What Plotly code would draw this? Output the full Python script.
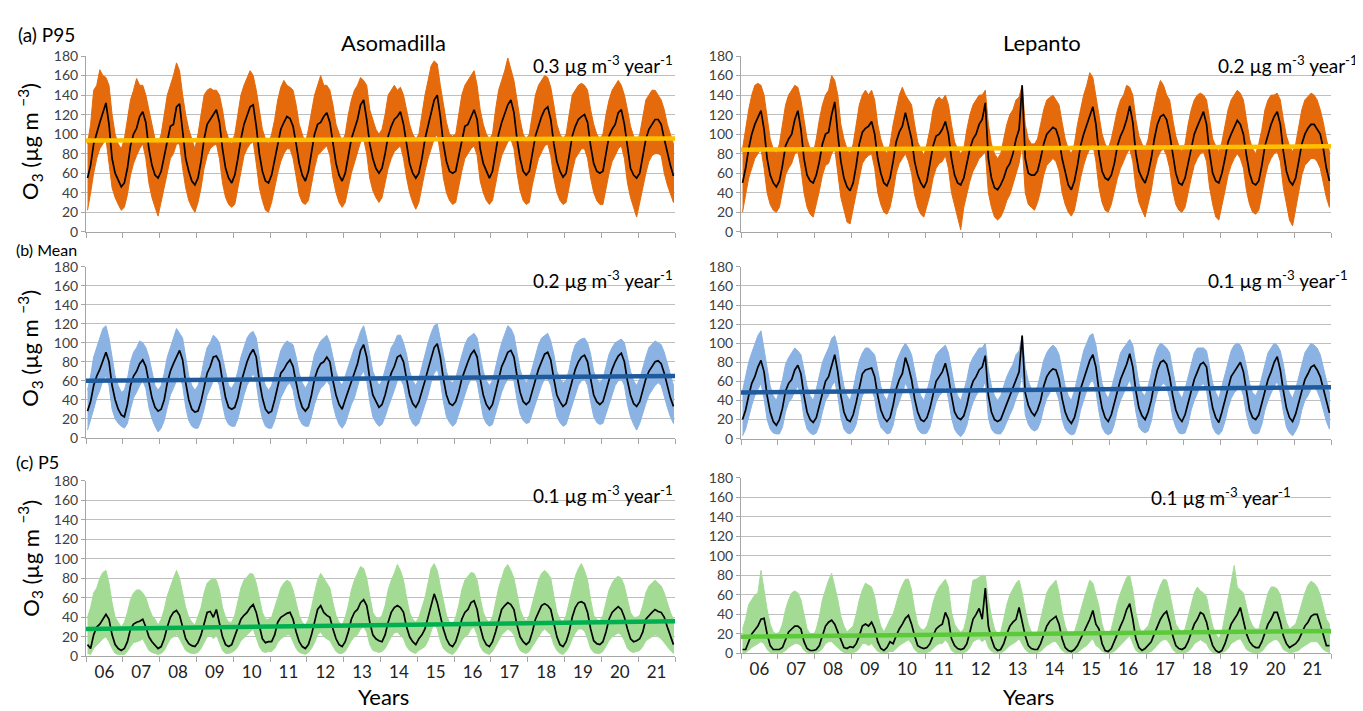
import plotly.graph_objects as go

W, H = 1363, 711
FONT = "Lato"

# ---------------- data (monthly, Jan 2006 - Dec 2021) ----------------
start_year = 2006
years = list(range(2006, 2022))
year_labels = ["06", "07", "08", "09", "10", "11", "12", "13", "14", "15", "16", "17", "18", "19", "20", "21"]

# (a) P95 Asomadilla
asom_p95_smooth = [
    55, 68, 90, 102, 112, 122, 132, 110, 75, 60, 52, 46,
    50, 65, 88, 100, 106, 118, 123, 112, 85, 68, 58, 55,
    62, 78, 95, 108, 110, 128, 131, 100, 75, 62, 52, 48,
    55, 72, 95, 110, 115, 120, 125, 112, 85, 65, 55, 50,
    58, 75, 95, 110, 120, 128, 130, 108, 80, 62, 52, 50,
    58, 75, 92, 105, 112, 118, 116, 108, 90, 70, 58, 52,
    62, 80, 100, 110, 112, 118, 122, 112, 90, 70, 58, 52,
    60, 78, 95, 105, 115, 130, 135, 115, 90, 75, 65, 60,
    65, 80, 98, 108, 115, 118, 123, 110, 88, 70, 60, 55,
    60, 75, 95, 108, 120, 135, 140, 118, 90, 72, 62, 60,
    62, 78, 95, 108, 110, 118, 125, 115, 85, 70, 62, 55,
    62, 80, 100, 112, 120, 130, 135, 122, 95, 75, 62, 58,
    62, 80, 98, 108, 118, 125, 128, 115, 90, 72, 62, 56,
    60, 78, 98, 108, 115, 118, 120, 112, 88, 70, 62, 60,
    62, 80, 98, 105, 110, 122, 125, 110, 85, 65, 58, 55,
    60, 78, 95, 105, 110, 115, 115, 110, 95, 80, 68, 57,
]
asom_p95_hi = [
    90, 110, 145, 150, 166, 160, 158, 150, 120, 100, 90, 85,
    95, 115, 135, 145, 157, 150, 150, 140, 125, 110, 95, 90,
    100, 120, 140, 150, 160, 173, 165, 140, 120, 105, 95, 85,
    100, 120, 140, 145, 147, 145, 145, 140, 125, 105, 95, 90,
    100, 120, 140, 150, 158, 165, 160, 145, 125, 105, 95, 90,
    100, 115, 135, 148, 155, 150, 148, 145, 130, 110, 100, 90,
    105, 125, 140, 150, 160, 150, 150, 145, 130, 110, 100, 92,
    100, 120, 135, 145, 150, 158, 155, 150, 125, 115, 105, 100,
    105, 120, 140, 145, 150, 145, 148, 140, 125, 110, 100, 95,
    100, 120, 140, 155, 170, 175, 172, 150, 130, 112, 100, 98,
    100, 120, 140, 150, 155, 160, 165, 150, 125, 110, 100, 95,
    100, 125, 145, 155, 165, 178, 165, 155, 135, 115, 100, 95,
    100, 120, 140, 150, 155, 160, 158, 148, 130, 110, 100, 95,
    100, 120, 140, 145, 150, 152, 150, 145, 125, 110, 100, 95,
    100, 120, 135, 145, 150, 155, 150, 140, 125, 108, 98, 92,
    100, 118, 135, 140, 145, 145, 140, 135, 125, 110, 100, 90,
]
asom_p95_lo = [
    22, 40, 60, 75, 85, 90, 95, 70, 45, 35, 28, 22,
    25, 38, 58, 70, 78, 85, 90, 75, 50, 35, 25, 16,
    30, 45, 60, 75, 80, 90, 90, 65, 45, 32, 25, 20,
    30, 45, 65, 78, 85, 88, 90, 75, 50, 35, 28, 25,
    28, 45, 62, 78, 85, 90, 92, 70, 45, 32, 22, 20,
    30, 45, 60, 72, 80, 85, 85, 75, 55, 38, 30, 28,
    32, 48, 65, 78, 82, 85, 88, 78, 55, 40, 30, 25,
    30, 45, 60, 72, 82, 92, 95, 80, 55, 42, 35, 30,
    35, 50, 65, 75, 82, 85, 88, 75, 55, 40, 30, 23,
    30, 45, 62, 75, 85, 95, 100, 80, 55, 40, 32, 28,
    30, 45, 62, 75, 80, 85, 88, 78, 52, 40, 32, 28,
    32, 48, 65, 78, 85, 92, 95, 85, 60, 42, 32, 28,
    30, 48, 62, 75, 82, 88, 90, 78, 55, 40, 32, 28,
    30, 45, 62, 75, 80, 85, 85, 75, 55, 40, 32, 28,
    28, 45, 60, 72, 78, 85, 88, 75, 50, 35, 25, 15,
    30, 45, 60, 72, 78, 80, 80, 78, 60, 48, 38, 30,
]
asom_p95_trend = [93.5, 95.5]

# (a) P95 Lepanto
lep_p95_smooth = [
    50, 65, 85, 100, 110, 118, 124, 105, 75, 58, 50, 46,
    52, 68, 88, 95, 100, 115, 124, 105, 75, 58, 52, 50,
    58, 72, 90, 100, 102, 120, 133, 100, 72, 55, 46, 42,
    50, 68, 90, 102, 106, 108, 113, 100, 75, 60, 50, 47,
    55, 72, 92, 102, 108, 122, 110, 95, 72, 58, 50, 45,
    52, 68, 88, 98, 100, 105, 113, 100, 75, 58, 50, 48,
    55, 70, 85, 95, 100, 110, 115, 132, 75, 55, 45, 43,
    48, 55, 65, 70, 80, 95, 105, 150, 75, 60, 58, 58,
    62, 75, 90, 100, 104, 107, 105, 95, 75, 60, 48, 43,
    52, 68, 88, 100, 110, 118, 128, 110, 80, 62, 55, 53,
    58, 70, 88, 98, 105, 115, 129, 112, 80, 62, 55, 50,
    60, 75, 95, 110, 118, 120, 115, 100, 78, 60, 50, 48,
    55, 70, 88, 100, 108, 115, 123, 110, 80, 60, 52, 50,
    60, 75, 92, 100, 108, 114, 110, 100, 78, 60, 50, 48,
    52, 68, 88, 100, 110, 118, 123, 110, 82, 62, 52, 48,
    55, 72, 90, 100, 106, 110, 110, 105, 100, 85, 65, 52,
]
lep_p95_hi = [
    85, 105, 125, 140, 150, 152, 150, 140, 115, 95, 85, 80,
    90, 110, 130, 140, 145, 150, 148, 135, 115, 95, 85, 80,
    95, 115, 130, 140, 145, 160, 155, 140, 110, 95, 85, 80,
    90, 110, 130, 140, 145, 140, 145, 135, 110, 95, 85, 80,
    90, 110, 125, 140, 148, 140, 135, 130, 110, 92, 85, 78,
    90, 105, 125, 135, 138, 135, 140, 130, 110, 92, 85, 80,
    85, 105, 120, 130, 135, 140, 140, 145, 110, 90, 80, 75,
    80, 95, 110, 120, 125, 135, 138, 150, 110, 95, 90, 90,
    95, 110, 125, 135, 138, 140, 135, 130, 112, 95, 85, 80,
    90, 110, 125, 140, 150, 163, 158, 140, 118, 100, 90, 85,
    95, 110, 125, 135, 140, 150, 148, 140, 115, 98, 90, 85,
    95, 115, 130, 145, 155, 150, 140, 135, 115, 98, 88, 82,
    90, 110, 125, 135, 140, 142, 140, 135, 115, 95, 88, 82,
    92, 110, 125, 135, 140, 145, 142, 135, 115, 95, 85, 80,
    90, 105, 125, 135, 140, 140, 142, 135, 115, 98, 88, 82,
    90, 108, 125, 135, 138, 142, 140, 135, 125, 112, 95, 82,
]
lep_p95_lo = [
    20, 38, 55, 65, 75, 80, 85, 65, 40, 28, 22, 20,
    25, 40, 58, 65, 70, 80, 82, 65, 40, 25, 18, 15,
    28, 42, 58, 68, 70, 80, 85, 60, 35, 22, 10, 8,
    22, 38, 55, 70, 75, 78, 80, 65, 40, 28, 20, 18,
    25, 40, 60, 70, 75, 80, 72, 60, 38, 25, 18, 15,
    25, 38, 55, 65, 70, 72, 78, 65, 40, 25, 15, 2,
    25, 38, 52, 62, 68, 75, 78, 82, 40, 25, 15, 12,
    15, 22, 32, 38, 48, 60, 70, 90, 40, 28, 25, 22,
    30, 42, 58, 68, 72, 75, 72, 62, 40, 28, 20, 16,
    22, 38, 55, 68, 78, 85, 90, 72, 45, 30, 22, 20,
    28, 40, 55, 65, 72, 80, 85, 72, 45, 30, 22, 15,
    30, 42, 62, 75, 82, 85, 78, 65, 42, 28, 22, 20,
    25, 38, 55, 68, 75, 80, 82, 72, 45, 28, 15, 12,
    28, 42, 58, 68, 75, 80, 75, 65, 42, 28, 20, 18,
    22, 38, 55, 68, 75, 80, 82, 72, 45, 28, 12, 6,
    25, 40, 58, 68, 72, 75, 75, 72, 65, 50, 35, 25,
]
lep_p95_trend = [84.0, 87.5]

# (b) Mean Asomadilla
asom_mean_smooth = [
    28, 38, 55, 65, 72, 82, 90, 80, 55, 40, 30, 24,
    22, 35, 55, 65, 70, 78, 82, 75, 58, 42, 32, 28,
    30, 40, 58, 70, 78, 85, 92, 82, 58, 40, 30, 27,
    28, 38, 55, 68, 75, 85, 86, 80, 60, 42, 32, 30,
    32, 42, 58, 70, 80, 88, 93, 85, 60, 42, 30, 26,
    28, 40, 55, 68, 72, 78, 82, 75, 58, 42, 32, 28,
    32, 45, 62, 72, 78, 80, 85, 80, 60, 45, 35, 30,
    40, 50, 60, 68, 78, 92, 98, 85, 62, 45, 38, 32,
    35, 45, 58, 68, 75, 85, 87, 80, 62, 45, 36, 32,
    38, 48, 60, 72, 85, 95, 99, 85, 62, 45, 36, 34,
    38, 48, 62, 72, 80, 88, 92, 85, 62, 45, 35, 30,
    35, 48, 62, 75, 82, 90, 92, 85, 65, 48, 38, 35,
    38, 50, 62, 72, 80, 88, 90, 82, 62, 45, 38, 33,
    36, 48, 62, 72, 80, 85, 87, 80, 62, 45, 38, 35,
    38, 50, 62, 72, 80, 86, 89, 80, 60, 45, 36, 33,
    38, 50, 62, 70, 75, 80, 81, 78, 68, 55, 42, 33,
]
asom_mean_hi = [
    50, 65, 85, 95, 105, 115, 118, 105, 85, 65, 55, 48,
    50, 62, 80, 90, 95, 102, 100, 95, 85, 68, 55, 50,
    55, 68, 85, 95, 105, 115, 110, 105, 85, 65, 55, 50,
    55, 65, 82, 95, 100, 108, 105, 100, 85, 68, 55, 52,
    58, 70, 85, 95, 105, 110, 112, 105, 85, 65, 55, 50,
    55, 68, 82, 92, 98, 102, 100, 98, 85, 68, 58, 52,
    58, 72, 88, 95, 102, 105, 108, 100, 85, 70, 60, 55,
    65, 75, 85, 95, 102, 112, 118, 105, 88, 70, 62, 55,
    60, 72, 85, 95, 100, 108, 108, 100, 88, 70, 60, 55,
    62, 75, 88, 100, 110, 118, 120, 105, 88, 70, 60, 58,
    62, 75, 88, 98, 105, 108, 110, 105, 88, 70, 60, 55,
    60, 75, 88, 100, 108, 118, 115, 108, 90, 72, 62, 58,
    62, 75, 88, 98, 105, 108, 110, 102, 88, 70, 62, 58,
    60, 72, 88, 98, 102, 104, 105, 100, 88, 70, 62, 58,
    62, 75, 88, 95, 100, 102, 104, 100, 85, 70, 60, 55,
    62, 75, 85, 95, 98, 102, 100, 98, 90, 78, 65, 55,
]
asom_mean_lo = [
    8, 18, 30, 42, 50, 60, 65, 55, 30, 20, 15, 12,
    10, 15, 30, 42, 48, 55, 60, 52, 32, 20, 12, 6,
    10, 18, 32, 45, 52, 60, 65, 55, 32, 18, 12, 10,
    10, 18, 30, 45, 52, 60, 62, 55, 35, 20, 14, 12,
    12, 20, 32, 45, 55, 62, 68, 58, 35, 20, 12, 10,
    10, 18, 30, 42, 48, 55, 58, 50, 32, 20, 14, 12,
    12, 22, 35, 45, 52, 55, 60, 55, 35, 22, 14, 10,
    15, 25, 35, 42, 52, 65, 70, 60, 38, 22, 16, 12,
    14, 22, 32, 42, 50, 60, 62, 55, 38, 22, 15, 12,
    15, 25, 35, 45, 58, 68, 72, 60, 38, 22, 16, 12,
    15, 25, 36, 45, 55, 62, 65, 58, 38, 22, 15, 12,
    14, 24, 36, 48, 56, 62, 65, 60, 40, 25, 18, 15,
    16, 26, 36, 45, 55, 62, 62, 55, 38, 22, 16, 12,
    14, 24, 36, 45, 55, 60, 62, 55, 38, 22, 16, 14,
    15, 25, 36, 45, 55, 60, 62, 55, 35, 22, 14, 8,
    15, 25, 36, 45, 50, 55, 58, 55, 45, 32, 22, 15,
]
asom_mean_trend = [60.0, 65.0]

# (b) Mean Lepanto
lep_mean_smooth = [
    20, 30, 45, 58, 65, 75, 82, 70, 45, 28, 18, 14,
    20, 32, 50, 58, 62, 72, 77, 68, 45, 28, 20, 17,
    22, 35, 50, 60, 65, 78, 88, 70, 45, 28, 20, 18,
    25, 38, 55, 68, 72, 73, 74, 65, 45, 30, 22, 18,
    22, 35, 52, 62, 68, 85, 75, 62, 42, 28, 20, 18,
    22, 32, 48, 60, 65, 70, 79, 65, 45, 28, 22, 20,
    24, 35, 50, 60, 65, 72, 75, 87, 45, 28, 20, 18,
    20, 28, 38, 45, 52, 62, 70, 108, 48, 35, 28, 24,
    30, 40, 55, 65, 70, 73, 72, 62, 42, 28, 20, 16,
    22, 35, 52, 62, 72, 82, 88, 75, 50, 32, 22, 18,
    25, 38, 52, 62, 70, 78, 89, 75, 50, 32, 24, 20,
    28, 40, 58, 72, 80, 82, 78, 65, 45, 30, 22, 18,
    25, 38, 52, 62, 70, 78, 80, 75, 50, 32, 22, 17,
    28, 40, 55, 65, 70, 75, 80, 70, 48, 30, 22, 20,
    25, 38, 52, 62, 70, 80, 86, 72, 50, 32, 22, 18,
    26, 38, 52, 62, 68, 75, 77, 72, 65, 52, 38, 27,
]
lep_mean_hi = [
    50, 65, 80, 90, 100, 108, 113, 95, 75, 55, 45, 40,
    50, 62, 78, 85, 90, 95, 92, 88, 72, 55, 45, 40,
    52, 65, 80, 88, 95, 105, 108, 95, 72, 55, 45, 40,
    52, 68, 82, 90, 95, 95, 92, 88, 72, 55, 45, 40,
    50, 65, 80, 88, 95, 100, 95, 88, 70, 55, 45, 40,
    50, 62, 78, 88, 92, 95, 98, 90, 72, 55, 45, 40,
    50, 62, 78, 85, 90, 95, 95, 100, 72, 55, 45, 40,
    45, 55, 65, 72, 78, 88, 92, 108, 75, 60, 52, 48,
    55, 68, 82, 90, 95, 98, 95, 88, 70, 55, 45, 40,
    50, 65, 80, 92, 100, 108, 110, 98, 78, 58, 48, 42,
    52, 65, 80, 90, 95, 100, 104, 98, 78, 58, 48, 45,
    55, 68, 85, 95, 100, 98, 95, 90, 72, 55, 48, 42,
    52, 65, 80, 90, 95, 95, 95, 92, 75, 58, 48, 42,
    55, 68, 82, 92, 98, 100, 98, 90, 75, 58, 48, 45,
    52, 65, 80, 90, 95, 100, 98, 92, 78, 58, 48, 42,
    52, 65, 80, 90, 95, 100, 98, 95, 88, 75, 60, 48,
]
lep_mean_lo = [
    3, 10, 22, 35, 45, 52, 58, 42, 20, 10, 6, 5,
    5, 12, 28, 38, 42, 50, 55, 45, 22, 10, 6, 4,
    6, 14, 28, 40, 45, 55, 60, 45, 22, 10, 6, 5,
    8, 15, 32, 45, 50, 52, 52, 42, 22, 12, 8, 5,
    6, 14, 30, 40, 48, 58, 52, 40, 20, 10, 6, 5,
    6, 12, 26, 38, 45, 48, 55, 42, 22, 10, 5, 2,
    6, 14, 28, 38, 45, 50, 52, 60, 22, 10, 6, 5,
    5, 10, 18, 25, 32, 42, 50, 70, 25, 15, 10, 8,
    10, 18, 32, 42, 48, 52, 50, 40, 20, 10, 6, 4,
    5, 14, 30, 40, 50, 58, 62, 50, 28, 12, 6, 4,
    6, 15, 30, 40, 48, 55, 62, 50, 28, 12, 8, 6,
    8, 18, 35, 48, 55, 58, 55, 42, 22, 12, 6, 5,
    6, 15, 30, 40, 48, 55, 58, 50, 28, 12, 6, 4,
    8, 18, 32, 42, 48, 52, 55, 45, 25, 12, 6, 5,
    6, 15, 30, 40, 48, 55, 60, 48, 28, 12, 6, 3,
    8, 15, 30, 40, 45, 52, 55, 50, 42, 30, 18, 10,
]
lep_mean_trend = [48.5, 54.0]

# (c) P5 Asomadilla
asom_p5_smooth = [
    12, 8, 22, 30, 33, 38, 43, 38, 22, 12, 8, 6,
    8, 15, 28, 33, 35, 36, 38, 30, 20, 15, 12, 8,
    10, 18, 30, 40, 45, 47, 42, 30, 18, 13, 11, 10,
    14, 22, 35, 45, 46, 40, 48, 35, 20, 12, 10, 12,
    20, 28, 38, 42, 45, 50, 53, 45, 30, 18, 14, 15,
    15, 22, 35, 40, 42, 44, 45, 38, 25, 15, 10, 8,
    12, 22, 35, 48, 52, 45, 42, 40, 28, 18, 12, 10,
    15, 25, 38, 45, 48, 55, 58, 52, 35, 22, 18, 16,
    15, 22, 35, 45, 50, 52, 50, 45, 30, 20, 15, 12,
    18, 22, 28, 40, 55, 64, 55, 40, 28, 18, 12, 10,
    15, 25, 38, 45, 48, 55, 57, 48, 30, 18, 12, 10,
    15, 25, 38, 48, 52, 55, 53, 48, 32, 20, 15, 12,
    15, 25, 38, 45, 52, 54, 52, 48, 32, 20, 12, 10,
    15, 25, 40, 50, 55, 56, 54, 45, 28, 16, 13, 12,
    15, 25, 38, 45, 48, 51, 48, 40, 28, 18, 15, 16,
    18, 25, 38, 42, 45, 48, 46, 45, 40, 30, 20, 12,
]
asom_p5_hi = [
    40, 50, 65, 70, 80, 86, 88, 75, 55, 40, 35, 30,
    35, 45, 58, 65, 68, 68, 65, 60, 50, 42, 38, 32,
    38, 48, 62, 72, 80, 88, 80, 65, 50, 40, 35, 32,
    40, 50, 65, 75, 78, 80, 78, 68, 50, 40, 35, 35,
    42, 55, 70, 78, 82, 85, 84, 75, 60, 45, 38, 38,
    40, 50, 62, 70, 75, 78, 76, 68, 55, 42, 35, 32,
    38, 50, 65, 78, 85, 80, 75, 70, 55, 42, 35, 32,
    40, 52, 68, 78, 85, 92, 90, 80, 62, 45, 40, 38,
    42, 52, 68, 78, 85, 94, 88, 78, 60, 45, 38, 35,
    40, 50, 60, 75, 90, 95, 88, 72, 55, 42, 35, 32,
    40, 52, 68, 78, 82, 86, 85, 78, 60, 45, 38, 35,
    40, 55, 70, 80, 90, 94, 88, 80, 62, 48, 40, 36,
    42, 55, 68, 78, 85, 88, 85, 80, 62, 45, 38, 35,
    42, 55, 70, 82, 90, 95, 88, 78, 58, 42, 38, 36,
    42, 55, 68, 75, 80, 82, 80, 72, 58, 45, 40, 40,
    42, 52, 65, 72, 75, 78, 75, 72, 65, 55, 45, 38,
]
asom_p5_lo = [
    3, 2, 8, 12, 15, 18, 20, 15, 8, 3, 2, 2,
    2, 5, 10, 14, 15, 16, 18, 12, 6, 4, 3, 2,
    3, 6, 12, 18, 20, 22, 18, 12, 6, 4, 3, 3,
    4, 8, 14, 20, 22, 18, 22, 14, 6, 3, 3, 4,
    6, 10, 16, 20, 22, 25, 28, 20, 10, 5, 4, 5,
    5, 8, 14, 18, 20, 22, 22, 16, 8, 4, 3, 2,
    4, 8, 14, 22, 25, 20, 18, 16, 10, 5, 3, 3,
    5, 10, 16, 20, 22, 28, 30, 25, 12, 6, 5, 4,
    5, 8, 14, 20, 24, 25, 22, 18, 10, 6, 4, 3,
    6, 8, 10, 16, 25, 35, 28, 16, 8, 5, 3, 2,
    5, 10, 16, 20, 22, 28, 30, 22, 10, 5, 3, 2,
    5, 10, 16, 22, 25, 28, 26, 22, 12, 6, 4, 3,
    5, 10, 16, 20, 25, 28, 25, 22, 12, 6, 3, 2,
    5, 10, 18, 24, 28, 28, 26, 18, 8, 4, 3, 3,
    5, 10, 16, 20, 22, 24, 22, 16, 8, 5, 4, 5,
    6, 10, 16, 18, 20, 22, 20, 18, 15, 10, 6, 3,
]
asom_p5_trend = [28.0, 36.0]

# (c) P5 Lepanto
lep_p5_smooth = [
    4, 4, 12, 20, 24, 28, 35, 36, 20, 8, 4, 4,
    4, 6, 14, 22, 25, 28, 28, 25, 12, 5, 3, 3,
    4, 8, 18, 28, 32, 34, 30, 22, 12, 6, 5, 7,
    6, 10, 18, 28, 30, 28, 32, 25, 12, 5, 3, 6,
    12, 10, 18, 25, 30, 36, 39, 30, 18, 8, 6, 5,
    6, 10, 18, 25, 28, 30, 42, 35, 15, 8, 5, 4,
    5, 10, 22, 35, 40, 46, 35, 67, 28, 15, 6, 3,
    4, 10, 20, 28, 32, 35, 47, 32, 18, 8, 5, 4,
    4, 10, 20, 28, 33, 36, 38, 30, 15, 6, 3, 2,
    4, 8, 15, 22, 28, 35, 44, 30, 25, 10, 3, 2,
    5, 12, 20, 28, 35, 45, 51, 35, 15, 6, 3, 5,
    8, 12, 20, 28, 35, 40, 43, 32, 18, 8, 5, 4,
    6, 12, 22, 30, 35, 42, 40, 32, 18, 8, 3, 1,
    3, 10, 20, 30, 35, 40, 47, 35, 20, 12, 8, 6,
    6, 12, 22, 30, 35, 42, 42, 32, 18, 10, 6, 8,
    10, 14, 22, 28, 32, 38, 40, 40, 30, 18, 8, 8,
]
lep_p5_hi = [
    25, 35, 50, 55, 60, 62, 85, 65, 45, 30, 22, 20,
    22, 30, 45, 55, 62, 64, 62, 55, 38, 25, 20, 18,
    25, 38, 55, 65, 75, 82, 70, 55, 38, 28, 22, 25,
    28, 40, 55, 65, 72, 70, 68, 58, 40, 28, 22, 28,
    35, 40, 52, 62, 70, 76, 76, 65, 45, 30, 25, 24,
    28, 38, 52, 62, 68, 72, 76, 68, 42, 30, 25, 22,
    25, 38, 55, 75, 76, 78, 80, 80, 55, 38, 25, 20,
    22, 35, 50, 60, 66, 72, 75, 62, 45, 30, 22, 20,
    22, 35, 50, 62, 68, 72, 75, 62, 42, 28, 20, 18,
    22, 32, 45, 55, 65, 75, 72, 60, 48, 30, 20, 18,
    25, 38, 52, 62, 70, 78, 80, 65, 42, 28, 20, 25,
    28, 38, 52, 62, 70, 76, 75, 62, 45, 30, 25, 22,
    25, 38, 52, 62, 68, 64, 62, 58, 42, 28, 20, 15,
    22, 38, 55, 72, 90, 68, 65, 62, 48, 35, 28, 25,
    25, 38, 52, 62, 68, 68, 66, 60, 45, 32, 25, 28,
    30, 40, 52, 62, 70, 74, 72, 68, 60, 48, 35, 30,
]
lep_p5_lo = [
    1, 1, 3, 6, 8, 10, 12, 10, 4, 1, 1, 1,
    1, 1, 3, 6, 8, 10, 10, 8, 3, 1, 1, 1,
    1, 2, 5, 10, 12, 12, 10, 6, 3, 1, 1, 1,
    1, 2, 5, 10, 10, 8, 10, 6, 2, 1, 1, 1,
    2, 2, 5, 8, 10, 12, 14, 10, 4, 1, 1, 1,
    1, 2, 5, 8, 10, 10, 14, 10, 3, 1, 1, 1,
    1, 2, 6, 12, 14, 15, 12, 15, 6, 2, 1, 1,
    1, 2, 5, 8, 10, 12, 15, 10, 4, 1, 1, 1,
    1, 2, 5, 8, 10, 12, 12, 8, 3, 1, 1, 1,
    1, 1, 3, 6, 8, 12, 15, 8, 6, 2, 1, 1,
    1, 2, 5, 8, 12, 15, 18, 10, 3, 1, 1, 1,
    1, 2, 5, 8, 12, 14, 14, 10, 4, 1, 1, 1,
    1, 2, 5, 10, 12, 14, 12, 10, 4, 1, 1, 1,
    1, 2, 5, 10, 12, 14, 15, 10, 4, 2, 1, 1,
    1, 2, 6, 10, 12, 14, 14, 10, 4, 2, 1, 1,
    2, 3, 6, 8, 10, 12, 12, 12, 8, 4, 2, 1,
]
lep_p5_trend = [17.0, 23.0]

trend_texts = ["0.3", "0.2", "0.2", "0.1", "0.1", "0.1"]

# ---------------- styling / layout ----------------
ORANGE, YELLOW = "#E46A0C", "#FFC000"
LBLUE, DBLUE = "#8AB2E3", "#1F5A9C"
LGREEN, GREEN_L, GREEN_R = "#A3DB95", "#00B050", "#5CC93A"
GRID, AXIS, TXT = "#BFBFBF", "#A6A6A6", "#404040"


def fx(px):
    return px / W


def fy(py):
    return 1 - py / H


# panel boxes in pixels: (x0, x1, ytop, ybottom)
boxes = [
    (78, 667, 40, 220), (733, 1323, 40, 220),
    (78, 667, 256, 431), (733, 1323, 256, 432),
    (78, 667, 475, 655), (733, 1323, 472, 652),
]
panels = [
    (asom_p95_hi, asom_p95_lo, asom_p95_smooth, asom_p95_trend, ORANGE, YELLOW),
    (lep_p95_hi, lep_p95_lo, lep_p95_smooth, lep_p95_trend, ORANGE, YELLOW),
    (asom_mean_hi, asom_mean_lo, asom_mean_smooth, asom_mean_trend, LBLUE, DBLUE),
    (lep_mean_hi, lep_mean_lo, lep_mean_smooth, lep_mean_trend, LBLUE, DBLUE),
    (asom_p5_hi, asom_p5_lo, asom_p5_smooth, asom_p5_trend, LGREEN, GREEN_L),
    (lep_p5_hi, lep_p5_lo, lep_p5_smooth, lep_p5_trend, LGREEN, GREEN_R),
]

fig = go.Figure()
layout = {}
for i, ((hi, lo, sm, tr, col, tcol), (x0, x1, yt, yb)) in enumerate(zip(panels, boxes)):
    n = i + 1
    xa = "x" if n == 1 else f"x{n}"
    ya = "y" if n == 1 else f"y{n}"
    mx = [start_year + (k + 0.5) / 12 for k in range(len(sm))]
    # daily-series envelope (monthly max / min) as a filled band
    fig.add_trace(go.Scatter(x=mx + mx[::-1], y=hi + lo[::-1], mode="lines", fill="toself",
                             fillcolor=col, line=dict(color=col, width=1),
                             xaxis=xa, yaxis=ya, hoverinfo="skip"))
    fig.add_trace(go.Scatter(x=mx, y=sm, mode="lines", line=dict(color="black", width=1.7),
                             xaxis=xa, yaxis=ya))
    fig.add_trace(go.Scatter(x=[years[0], years[-1] + 1], y=tr, mode="lines",
                             line=dict(color=tcol, width=4.5), xaxis=xa, yaxis=ya))
    bottom = i >= 4
    layout["xaxis" if n == 1 else f"xaxis{n}"] = dict(
        domain=[fx(x0), fx(x1)], anchor=ya, range=[years[0], years[-1] + 1],
        tickmode="array", tickvals=[y + 0.5 for y in years], ticktext=year_labels,
        ticks="", showticklabels=bottom, tickfont=dict(family=FONT, size=17, color="#222"),
        showline=True, linecolor=AXIS, linewidth=1, showgrid=False, zeroline=False,
        minor=dict(tickmode="array", tickvals=list(range(years[0], years[-1] + 2)),
                   ticks="outside", ticklen=5, tickcolor=AXIS, tickwidth=1, showgrid=False),
    )
    layout["yaxis" if n == 1 else f"yaxis{n}"] = dict(
        domain=[fy(yb), fy(yt)], anchor=xa, range=[0, 180], tickmode="array",
        tickvals=list(range(0, 181, 20)), showgrid=True, gridcolor=GRID, gridwidth=1,
        showline=True, linecolor=AXIS, linewidth=1, ticks="outside", ticklen=4,
        tickcolor=AXIS, zeroline=False, tickfont=dict(family=FONT, size=14, color=TXT),
    )

ann = []


def text(s, x, y, size, xanchor="center", angle=0):
    ann.append(dict(text=s, x=fx(x), y=fy(y), xref="paper", yref="paper", showarrow=False,
                    xanchor=xanchor, yanchor="middle", textangle=angle,
                    font=dict(family=FONT, size=size, color="black")))


text("Asomadilla", 385, 26, 22)
text("Lepanto", 1034, 26, 22)
text("(a) P95", 8, 18, 19, "left")
text("(b) Mean", 6, 238, 16, "left")
text("(c) P5", 6, 456, 18, "left")
for yc in (128, 340, 555):
    text("O<sub>3</sub> (µg m <sup>−3</sup>)", 22, yc, 22, angle=-90)
text("Years", 375, 696, 22)
text("Years", 1020, 696, 22)
trend_pos = [(667, 49), (1352, 49), (667, 269), (1342, 269), (667, 489), (1285, 491)]
for s, (x, y) in zip(trend_texts, trend_pos):
    text(f"{s} µg m<sup>-3</sup> year<sup>-1</sup>", x, y, 19, "right")

fig.update_layout(width=W, height=H, margin=dict(l=0, r=0, t=0, b=0), showlegend=False,
                  plot_bgcolor="white", paper_bgcolor="white", annotations=ann, **layout)
fig.write_html("out.html")
